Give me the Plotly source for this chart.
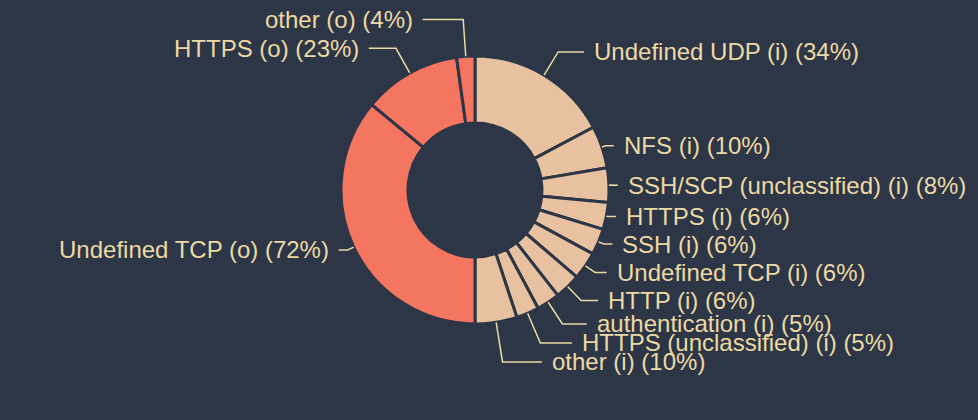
import math
import plotly.graph_objects as go

# ---------------- data ----------------
names_in = ["Undefined UDP (i)", "NFS (i)", "SSH/SCP (unclassified) (i)", "HTTPS (i)",
            "SSH (i)", "Undefined TCP (i)", "HTTP (i)", "authentication (i)",
            "HTTPS (unclassified) (i)", "other (i)"]
values_in = [34.5, 10.2, 8.3, 6.5, 6.3, 6.7, 6.3, 5.6, 5.5, 10.1]
pct_in = [34, 10, 8, 6, 6, 6, 6, 5, 5, 10]

names_out = ["Undefined TCP (o)", "HTTPS (o)", "other (o)"]
values_out = [72.0, 23.6, 4.4]
pct_out = [72, 23, 4]

# ---------------- style / layout constants ----------------
W, H = 978, 420
CX, CY, R = 475, 190, 134
HOLE = 0.5
BG = "#2c3646"
TXT = "#ecd9a4"
COL_IN = "#e8c1a0"
COL_OUT = "#f47560"
FONT = "Liberation Sans, Arial, sans-serif"
FSIZE = 24
LEN = 37        # extra radial reach for labels
GAP_Y = 19      # min vertical spacing of labels
GAP_TXT = 10    # gap between leader line end and text

names = names_in + names_out
values = values_in + values_out
pcts = pct_in + pct_out
colors = [COL_IN] * len(names_in) + [COL_OUT] * len(names_out)

fig = go.Figure(go.Pie(
    labels=names, values=values, sort=False, direction="clockwise", rotation=0,
    hole=HOLE, textinfo="none", hoverinfo="label+percent",
    marker=dict(colors=colors, line=dict(color=BG, width=3)),
    domain=dict(x=[(CX - R) / W, (CX + R) / W], y=[1 - (CY + R) / H, 1 - (CY - R) / H]),
    showlegend=False,
))

# ---------------- label layout computed from slice angles ----------------
total = sum(values)
items = []
cum = 0.0
for name, v, p in zip(names, values, pcts):
    th = 2 * math.pi * (cum + v / 2) / total
    cum += v
    c, s = math.cos(th), math.sin(th)
    side = 1 if s > 0 else -1
    y_ideal = CY - c * (R + LEN * c * c)
    items.append(dict(name=name, pct=p, c=c, s=s, side=side, y=y_ideal))

for side in (1, -1):
    grp = sorted([it for it in items if it["side"] == side], key=lambda d: d["y"])
    for i in range(1, len(grp)):
        if grp[i]["y"] < grp[i - 1]["y"] + GAP_Y:
            grp[i]["y"] = grp[i - 1]["y"] + GAP_Y

def px(x):
    return x / W

def py(y):
    return 1 - y / H

shapes = []
annotations = []
for it in items:
    c, s, side, ly = it["c"], it["s"], it["side"], it["y"]
    x0, y0 = CX + R * s, CY - R * c
    if abs(c) > 0.05:
        re = (CY - ly) / c
    else:
        re = R + LEN * c * c
    re = max(re, R + 1)
    ex, ey = CX + re * s, CY - re * c
    tx = ex + side * (18 + 33 * c ** 4)
    endx = tx - side * GAP_TXT
    shapes.append(dict(
        type="path", xref="paper", yref="paper",
        path=f"M {px(x0)},{py(y0)} L {px(ex)},{py(ey)} L {px(endx)},{py(ly)}",
        line=dict(color=TXT, width=1.5),
    ))
    annotations.append(dict(
        x=px(tx), y=py(ly), xref="paper", yref="paper",
        text=f"{it['name']} ({it['pct']}%)", showarrow=False,
        xanchor="left" if side > 0 else "right", yanchor="middle",
        borderpad=0, borderwidth=0,
        font=dict(family=FONT, size=FSIZE, color=TXT),
    ))

fig.update_layout(
    width=W, height=H, margin=dict(l=0, r=0, t=0, b=0),
    paper_bgcolor=BG, plot_bgcolor=BG,
    shapes=shapes, annotations=annotations,
)

fig.write_html("out.html")
